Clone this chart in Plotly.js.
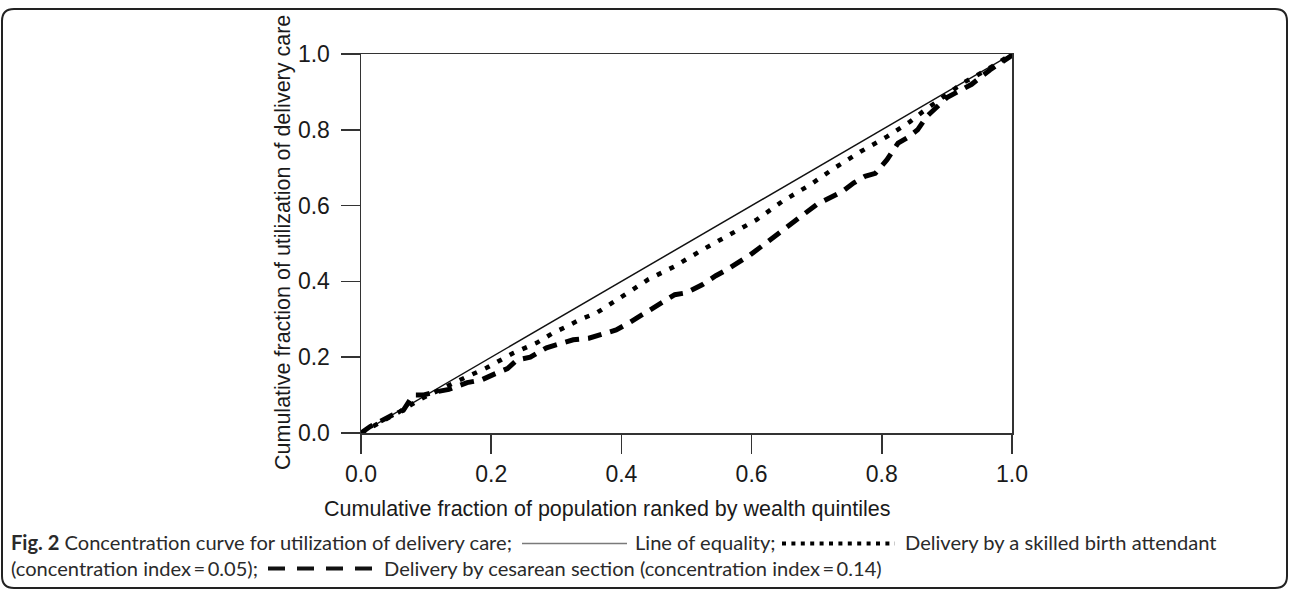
<!DOCTYPE html>
<html>
<head>
<meta charset="utf-8">
<script src="https://cdn.plot.ly/plotly-3.0.1.min.js"></script>
<style>html,body{margin:0;padding:0;background:#fff;}#chart{width:1290px;height:592px;}</style>
</head>
<body>
<div id="chart"></div>
<script>
// ---- data ----
const equalityX = [0, 1];
const equalityY = [0, 1];

const sbaX = [0, 0.03, 0.06, 0.09, 0.11, 0.132, 0.152, 0.193, 0.234, 0.27, 0.295, 0.316, 0.336, 0.362, 0.378, 0.40, 0.418, 0.441, 0.482, 0.525, 0.567, 0.608, 0.647, 0.69, 0.728, 0.767, 0.808, 0.843, 0.863, 0.894, 0.925, 0.961, 0.992, 1];
const sbaY = [0, 0.028, 0.057, 0.088, 0.105, 0.122, 0.14, 0.172, 0.211, 0.238, 0.264, 0.281, 0.299, 0.317, 0.334, 0.357, 0.379, 0.405, 0.44, 0.484, 0.524, 0.563, 0.611, 0.655, 0.70, 0.742, 0.782, 0.821, 0.848, 0.885, 0.924, 0.958, 0.99, 1];

const cesX = [0, 0.014, 0.049, 0.065, 0.08, 0.095, 0.116, 0.135, 0.163, 0.185, 0.203, 0.225, 0.24, 0.26, 0.285, 0.305, 0.326, 0.35, 0.372, 0.392, 0.413, 0.447, 0.465, 0.482, 0.50, 0.524, 0.545, 0.562, 0.598, 0.633, 0.664, 0.70, 0.739, 0.757, 0.774, 0.79, 0.808, 0.825, 0.839, 0.855, 0.869, 0.885, 0.90, 0.938, 0.966, 0.997, 1];
const cesY = [0, 0.017, 0.048, 0.06, 0.10, 0.10, 0.109, 0.115, 0.133, 0.14, 0.154, 0.17, 0.193, 0.2, 0.225, 0.235, 0.246, 0.25, 0.262, 0.272, 0.292, 0.328, 0.35, 0.365, 0.37, 0.391, 0.415, 0.431, 0.47, 0.515, 0.558, 0.603, 0.637, 0.66, 0.677, 0.685, 0.721, 0.765, 0.779, 0.80, 0.835, 0.86, 0.885, 0.92, 0.958, 0.993, 1];

const tickVals = [0, 0.2, 0.4, 0.6, 0.8, 1.0];
const tickText = ['0.0', '0.2', '0.4', '0.6', '0.8', '1.0'];

const xTitle = 'Cumulative fraction of population ranked by wealth quintiles';
const yTitle = 'Cumulative fraction of utilization of delivery care';
const capA = '<b>Fig. 2</b> Concentration curve for utilization of delivery care;';
const capB = 'Line of equality;';
const capC = 'Delivery by a skilled birth attendant';
const capD = '(concentration index\u2009=\u20090.05);';
const capE = 'Delivery by cesarean section (concentration index\u2009=\u20090.14)';

// ---- layout geometry (pixels) ----
const W = 1290, H = 592;
const L = 361, R = 1012, T = 54, B = 433;
const fx = p => (p - L) / (R - L);
const fy = p => (B - p) / (B - T);

const rr = 12, fl = 2, fr = 1287, ft = 9, fb = 588;
const framePath =
  `M ${fx(fl + rr)},${fy(ft)} L ${fx(fr - rr)},${fy(ft)} Q ${fx(fr)},${fy(ft)} ${fx(fr)},${fy(ft + rr)} ` +
  `L ${fx(fr)},${fy(fb - rr)} Q ${fx(fr)},${fy(fb)} ${fx(fr - rr)},${fy(fb)} ` +
  `L ${fx(fl + rr)},${fy(fb)} Q ${fx(fl)},${fy(fb)} ${fx(fl)},${fy(fb - rr)} ` +
  `L ${fx(fl)},${fy(ft + rr)} Q ${fx(fl)},${fy(ft)} ${fx(fl + rr)},${fy(ft)} Z`;

const axisFont = {family: 'Liberation Sans, Arial, sans-serif', size: 23, color: '#1a1a1a'};
const titleFont = {family: 'Liberation Sans, Arial, sans-serif', size: 21.5, color: '#1a1a1a'};
const capFont = {family: 'Lato, sans-serif', size: 20.1, color: '#2a2a2a'};

const traces = [
  {x: equalityX, y: equalityY, mode: 'lines', name: 'Line of equality',
   line: {color: '#111', width: 1.5}},
  {x: sbaX, y: sbaY, mode: 'lines', name: 'Delivery by a skilled birth attendant',
   line: {color: '#000', width: 4.5, dash: '5px,9px'}},
  {x: cesX, y: cesY, mode: 'lines', name: 'Delivery by cesarean section',
   line: {color: '#000', width: 5, dash: '14px,9px'}}
];

const axisCommon = {
  range: [0, 1], tickvals: tickVals, ticktext: tickText,
  showline: true, linecolor: '#333', linewidth: 1.5, mirror: true,
  ticks: 'outside', ticklen: 19, tickwidth: 1.5, tickcolor: '#333',
  showgrid: false, zeroline: false, tickfont: axisFont, fixedrange: true
};

function capNote(x, y, text) {
  return {xref: 'paper', yref: 'paper', x: fx(x), y: fy(y), xanchor: 'left', yanchor: 'middle',
          text: text, showarrow: false, font: capFont, align: 'left'};
}

const layout = {
  width: W, height: H,
  margin: {l: L, r: W - R, t: T, b: H - B, pad: 0},
  paper_bgcolor: '#fff', plot_bgcolor: '#fff',
  showlegend: false,
  xaxis: Object.assign({}, axisCommon, {ticklabelstandoff: 1}),
  yaxis: Object.assign({}, axisCommon, {ticklabelstandoff: 6}),
  shapes: [
    {type: 'path', xref: 'paper', yref: 'paper', path: framePath,
     line: {color: '#222', width: 2}, fillcolor: 'rgba(0,0,0,0)'},
    // caption key samples
    {type: 'line', xref: 'paper', yref: 'paper', x0: fx(522), x1: fx(627), y0: fy(543.5), y1: fy(543.5),
     line: {color: '#7a7a7a', width: 1.6}},
    {type: 'line', xref: 'paper', yref: 'paper', x0: fx(782), x1: fx(895), y0: fy(543.5), y1: fy(543.5),
     line: {color: '#000', width: 4, dash: '4px,5.4px'}},
    {type: 'line', xref: 'paper', yref: 'paper', x0: fx(268), x1: fx(372), y0: fy(568.5), y1: fy(568.5),
     line: {color: '#111', width: 3.8, dash: '17px,12px'}}
  ],
  annotations: [
    {xref: 'paper', yref: 'paper', x: fx(607), y: fy(509), xanchor: 'center', yanchor: 'middle',
     text: xTitle, showarrow: false, font: titleFont},
    {xref: 'paper', yref: 'paper', x: fx(283), y: fy(243), xanchor: 'center', yanchor: 'middle',
     text: yTitle, textangle: -90, showarrow: false, font: titleFont},
    capNote(9, 542, capA),
    capNote(633, 542, capB),
    capNote(903, 542, capC),
    capNote(9, 568, capD),
    capNote(382, 568, capE)
  ]
};

Plotly.newPlot('chart', traces, layout, {staticPlot: true, displayModeBar: false});
</script>
</body>
</html>
